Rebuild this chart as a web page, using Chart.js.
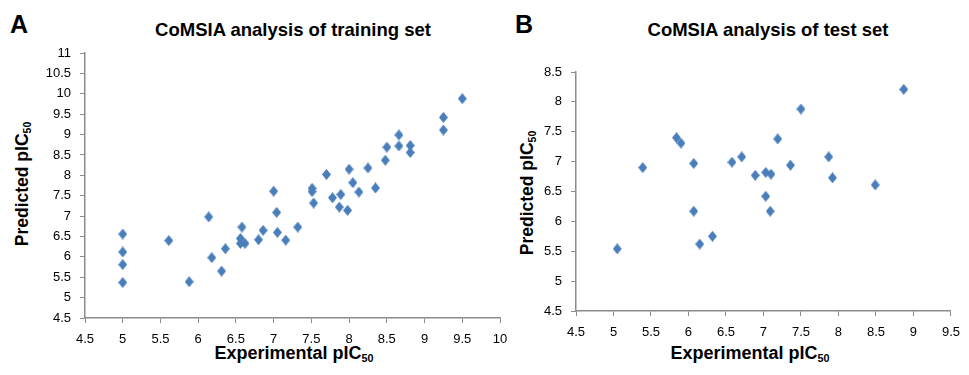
<!DOCTYPE html>
<html>
<head>
<meta charset="utf-8">
<script src="https://cdn.jsdelivr.net/npm/chart.js@4.4.1/dist/chart.umd.min.js"></script>
<style>
  html, body { margin: 0; padding: 0; background: #fff; }
  body { width: 969px; height: 375px; position: relative; overflow: hidden;
         font-family: "Liberation Sans", Arial, sans-serif; color: #000; }
  .wrap { position: absolute; top: 0; height: 375px; }
  .t { position: absolute; white-space: nowrap; line-height: 1; font-weight: bold;
       transform: translate(-50%, -50%); }
  .letter { position: absolute; font-weight: bold; font-size: 25px; line-height: 1; }
  .t sub { font-size: 0.6em; vertical-align: -0.25em; }
  .rot { transform: translate(-50%, -50%) rotate(-90deg); }
</style>
</head>
<body>
<div class="letter" style="left:10px; top:12px;">A</div>
<div class="letter" style="left:515px; top:12px;">B</div>
<div class="t" style="left:293px; top:30px; font-size:18.5px;">CoMSIA analysis of training set</div>
<div class="t" style="left:768px; top:30px; font-size:18.5px;">CoMSIA analysis of test set</div>
<div class="t" style="left:294px; top:354px; font-size:18px;">Experimental pIC<sub>50</sub></div>
<div class="t" style="left:750px; top:354px; font-size:18px;">Experimental pIC<sub>50</sub></div>
<div class="t rot" style="left:23px; top:184px; font-size:17.5px;">Predicted pIC<sub>50</sub></div>
<div class="t rot" style="left:528px; top:193px; font-size:17.5px;">Predicted pIC<sub>50</sub></div>

<div class="wrap" style="left:0; width:520px;"><canvas id="cA" width="520" height="375"></canvas></div>
<div class="wrap" style="left:515px; width:454px;"><canvas id="cB" width="454" height="375"></canvas></div>

<script>
// ---- Data ----
const trainExperimental = [5.0, 5.0, 5.0, 5.0, 5.61, 5.88, 6.14, 6.18, 6.31, 6.36,
  6.58, 6.56, 6.56, 6.62, 6.80, 6.86, 7.0, 7.04, 7.05, 7.16,
  7.32, 7.51, 7.51, 7.53, 7.70, 7.78, 7.89, 7.87, 7.98, 8.0,
  8.05, 8.13, 8.25, 8.35, 8.48, 8.50, 8.66, 8.66, 8.81, 8.81,
  9.25, 9.25, 9.50];
const trainPredicted = [6.56, 6.12, 5.81, 5.37, 6.40, 5.39, 6.98, 5.98, 5.65, 6.20,
  6.73, 6.45, 6.33, 6.33, 6.42, 6.65, 7.61, 7.09, 6.60, 6.41,
  6.73, 7.68, 7.60, 7.32, 8.02, 7.45, 7.53, 7.22, 7.14, 8.15,
  7.82, 7.59, 8.18, 7.69, 8.37, 8.69, 8.99, 8.72, 8.73, 8.56,
  9.42, 9.11, 9.88];

const testExperimental = [5.05, 5.39, 5.84, 5.90, 6.07, 6.07, 6.15, 6.32, 6.58, 6.71,
  6.89, 7.03, 7.10, 7.03, 7.09, 7.19, 7.36, 7.50, 7.87, 7.92,
  8.49, 8.87];
const testPredicted = [5.54, 6.90, 7.40, 7.31, 6.97, 6.17, 5.62, 5.75, 6.99, 7.08,
  6.77, 6.82, 6.79, 6.42, 6.17, 7.38, 6.94, 7.88, 7.08, 6.73,
  6.61, 8.21];

// axis ranges [min, max] and tick step
const trainXRange = [4.5, 10];
const trainYRange = [4.5, 11];
const testXRange = [4.5, 9.5];
const testYRange = [4.5, 8.5];
const tickStep = 0.5;

// ---- Styling ----
const MARK = '#4A7EBB';
const AXIS = '#8C8C8C';

function diamond() {
  const c = document.createElement('canvas');
  c.width = 9; c.height = 11;
  const g = c.getContext('2d');
  g.fillStyle = MARK;
  g.beginPath();
  g.moveTo(4.5, 0); g.lineTo(9, 5.5); g.lineTo(4.5, 11); g.lineTo(0, 5.5);
  g.closePath(); g.fill();
  return c;
}
const mark = diamond();

function pts(xs, ys) { return xs.map((x, i) => ({ x: x, y: ys[i] })); }

function axis(range, fitProp, fitVal) {
  return {
    type: 'linear',
    min: range[0], max: range[1],
    afterFit: s => { s[fitProp] = fitVal; },
    ticks: { stepSize: tickStep, color: '#000', padding: 9, maxRotation: 0, autoSkip: false,
             callback: v => String(Math.round(v * 10) / 10),
             font: { family: '"Liberation Sans", Arial, sans-serif', size: 13 } },
    grid: { drawOnChartArea: false, drawTicks: true, tickLength: 5, color: AXIS, lineWidth: 1 },
    border: { display: true, color: AXIS, width: 1.5 }
  };
}

function make(id, xs, ys, xr, yr, pad, yw, xh) {
  new Chart(document.getElementById(id), {
    type: 'scatter',
    data: { datasets: [{ data: pts(xs, ys), pointStyle: mark, backgroundColor: MARK, borderColor: MARK }] },
    options: {
      responsive: false, animation: false,
      layout: { padding: pad },
      plugins: { legend: { display: false }, tooltip: { enabled: false }, title: { display: false } },
      scales: { x: axis(xr, 'height', xh), y: axis(yr, 'width', yw) }
    }
  });
}

make('cA', trainExperimental, trainPredicted, trainXRange, trainYRange,
     { left: 45, right: 20, top: 53, bottom: 27 }, 40, 30);
make('cB', testExperimental, testPredicted, testXRange, testYRange,
     { left: 21, right: 9, top: 72, bottom: 34 }, 40, 30);
</script>
</body>
</html>
